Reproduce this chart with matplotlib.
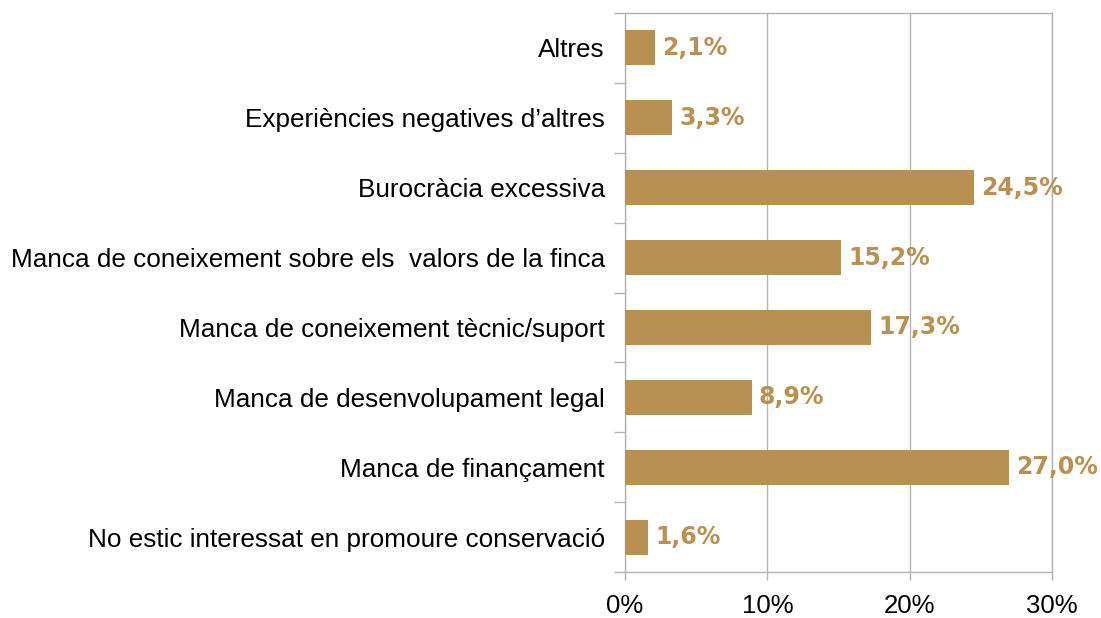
import matplotlib
matplotlib.use("Agg")
import matplotlib.pyplot as plt
from matplotlib.ticker import FixedLocator

categories = [
    "Altres",
    "Experiències negatives d\u2019altres",
    "Burocràcia excessiva",
    "Manca de coneixement sobre els  valors de la finca",
    "Manca de coneixement tècnic/suport",
    "Manca de desenvolupament legal",
    "Manca de finançament",
    "No estic interessat en promoure conservació",
]
values = [2.1, 3.3, 24.5, 15.2, 17.3, 8.9, 27.0, 1.6]
xticks = [0, 10, 20, 30]
xticklabels = ["0%", "10%", "20%", "30%"]

bar_color = "#B89152"
grid_color = "#B3B3B3"

fig = plt.figure(figsize=(11.01, 6.18), dpi=100)
ax = fig.add_axes([625/1101, 1 - 572/618, (1052-625)/1101, (572-13)/618])

n = len(categories)
ypos = list(range(n))
ax.barh(ypos, values, height=0.5, color=bar_color, zorder=3)
ax.set_ylim(n - 0.5, -0.5)
ax.set_xlim(0, 30)

for y, v in zip(ypos, values):
    ax.text(v + 0.5, y, f"{v:.1f}%".replace(".", ","), va="center", ha="left",
            fontsize=17, fontweight="bold", color=bar_color, family="DejaVu Sans", zorder=4)

ax.set_yticks(ypos)
ax.set_yticklabels(categories, family="Liberation Sans", fontsize=18.8)
ax.yaxis.set_minor_locator(FixedLocator([i - 0.5 for i in range(n + 1)]))
ax.tick_params(axis="y", which="major", length=0, pad=14.5)
ax.tick_params(axis="y", which="minor", length=8, color=grid_color, width=1)

ax.set_xticks(xticks)
ax.set_xticklabels(xticklabels, family="Liberation Sans", fontsize=18.5)
ax.tick_params(axis="x", length=6, color=grid_color, width=1, pad=10)

ax.grid(axis="x", color=grid_color, linewidth=1, zorder=0)
for side in ["left", "bottom", "top", "right"]:
    ax.spines[side].set_color(grid_color)
    ax.spines[side].set_linewidth(1)

fig.savefig("out.png", dpi=100)
